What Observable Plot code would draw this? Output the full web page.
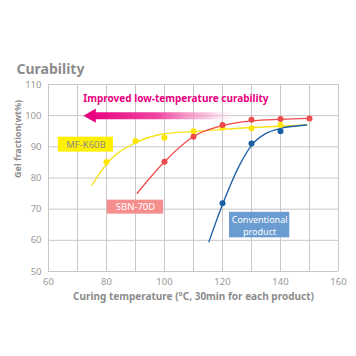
<!DOCTYPE html>
<html><head><meta charset="utf-8">
<script src="https://cdn.jsdelivr.net/npm/d3@7"></script>
<script src="https://cdn.jsdelivr.net/npm/@observablehq/plot@0.6"></script>
<style>body{margin:0;background:#fff;}</style>
</head><body><div id="chart"></div>
<script>
// ---- data ----
const seriesNames = ["MF-K60B", "SBN-70D", "Conventional\nproduct"];
const xTicks = [60, 80, 100, 120, 140, 160];
const yTicks = [50, 60, 70, 80, 90, 100, 110];

const mfPointsX = [80, 90, 100, 110, 120, 130, 140];
const mfPointsY = [85.1, 91.9, 92.9, 95.0, 96.1, 96.0, 97.0];
const mfCurveX = [75, 80, 90, 100, 110, 120, 130, 140, 149];
const mfCurveY = [77.7, 84.5, 91.3, 94.2, 94.9, 95.6, 96.2, 96.6, 97.0];

const sbnPointsX = [100, 110, 120, 130, 140, 150];
const sbnPointsY = [85.2, 93.2, 97.0, 98.7, 98.9, 99.1];
const sbnCurveX = [90.6, 100, 110, 120, 130, 140, 150];
const sbnCurveY = [75.1, 85.2, 93.3, 96.8, 98.3, 98.8, 99.1];

const convPointsX = [120, 130, 140];
const convPointsY = [71.9, 91.1, 95.0];
const convCurveX = [115.3, 120, 126.2, 130, 135, 140, 149];
const convCurveY = [59.5, 71.5, 84.7, 90.5, 94.3, 95.9, 97.0];

const arrowText = ["Improved low-temperature curability"];
const titleText = ["Curability"];
const yLabel = ["Gel fraction(wt%)"];
const xLabel = ["Curing temperature (°C, 30min for each product)"];

const pts = (xs, ys) => xs.map((x, i) => ({x, y: ys[i]}));

const YEL = "#f7e31a", RED = "#f04a4a", BLU = "#1a5ea6", PINK = "#e8007f";
const PLACEHOLDER = "#fe0081";

const chart = Plot.plot({
  width: 356, height: 356,
  marginLeft: 48, marginRight: 18, marginTop: 84, marginBottom: 85,
  style: {fontFamily: "'Noto Sans', sans-serif", fontSize: "9.5px", color: "#8c8c8c", background: "#fff"},
  x: {domain: [60, 160]},
  y: {domain: [50, 110]},
  marks: [
    Plot.gridX(d3.range(60, 161, 10), {stroke: "#c8c8c8", strokeOpacity: 1}),
    Plot.gridY(d3.range(50, 111, 10), {stroke: "#c8c8c8", strokeOpacity: 1}),
    Plot.axisX({ticks: xTicks, tickSize: 0, tickPadding: 7, label: null, fill: "#999"}),
    Plot.axisY({ticks: yTicks, tickSize: 0, tickPadding: 7, label: null, fill: "#999"}),
    // arrow
    Plot.link([0], {x1: 75, x2: 126, y1: 100, y2: 100, stroke: PLACEHOLDER, strokeWidth: 7}),
    Plot.dot([0], {x: 74.9, y: 100, symbol: "triangle", r: 5.3, rotate: -90, fill: PINK, stroke: "none"}),
    Plot.text(arrowText, {x: 72, y: 105.3, text: d => d, textAnchor: "start", fill: PINK, fontWeight: "bold", fontSize: 10}),
    // curves
    Plot.line(pts(mfCurveX, mfCurveY), {x: "x", y: "y", curve: "monotone-x", stroke: YEL, strokeWidth: 1.3}),
    Plot.line(pts(sbnCurveX, sbnCurveY), {x: "x", y: "y", curve: "monotone-x", stroke: RED, strokeWidth: 1.3}),
    Plot.line(pts(convCurveX, convCurveY), {x: "x", y: "y", curve: "monotone-x", stroke: BLU, strokeWidth: 1.3}),
    Plot.dot(pts(mfPointsX, mfPointsY), {x: "x", y: "y", r: 3, fill: "#ffe500"}),
    Plot.dot(pts(sbnPointsX, sbnPointsY), {x: "x", y: "y", r: 3, fill: RED}),
    Plot.dot(pts(convPointsX, convPointsY), {x: "x", y: "y", r: 3, fill: BLU}),
    // label boxes
    Plot.rect([0], {x1: 63.4, x2: 82.4, y1: 88.3, y2: 93.1, fill: "#fff000"}),
    Plot.text([seriesNames[0]], {x: 72.9, y: 90.7, text: d => d, fill: "#8c8c8c", fontSize: 9.5}),
    Plot.rect([0], {x1: 80.3, x2: 99.7, y1: 68.4, y2: 72.9, fill: "#f78e8e"}),
    Plot.text([seriesNames[1]], {x: 90, y: 70.65, text: d => d, fill: "#fff", fontSize: 9.5}),
    Plot.rect([0], {x1: 122.4, x2: 143.2, y1: 60.8, y2: 69.0, fill: "#6a9bd1"}),
    Plot.text([seriesNames[2]], {x: 132.8, y: 64.9, text: d => d, fill: "#fff", fontSize: 9, lineHeight: 1.3}),
    // titles
    Plot.text(titleText, {frameAnchor: "top-left", dx: -32, dy: -20, text: d => d, textAnchor: "start", fontSize: 14, fontWeight: "bold", fill: "#8c8c8c"}),
    Plot.text(yLabel, {frameAnchor: "left", dx: -30, rotate: -90, text: d => d, fontSize: 9, fontWeight: "bold", fill: "#8c8c8c"}),
    Plot.text(xLabel, {frameAnchor: "bottom", dy: 28, text: d => d, fontSize: 10, fontWeight: "bold", fill: "#8c8c8c"})
  ]
});

// gradient for the arrow shaft
const xs = chart.scale("x");
const ns = "http://www.w3.org/2000/svg";
const defs = document.createElementNS(ns, "defs");
const grad = document.createElementNS(ns, "linearGradient");
grad.setAttribute("id", "pinkGrad");
grad.setAttribute("gradientUnits", "userSpaceOnUse");
grad.setAttribute("x1", xs.apply(74));
grad.setAttribute("x2", xs.apply(126));
grad.setAttribute("y1", 0); grad.setAttribute("y2", 0);
[[0, PINK, 1], [0.45, "#ef3d9c", 0.95], [0.8, "#f8a6d0", 0.6], [1, "#ffffff", 0]].forEach(([o, c, a]) => {
  const s = document.createElementNS(ns, "stop");
  s.setAttribute("offset", o); s.setAttribute("stop-color", c); s.setAttribute("stop-opacity", a);
  grad.appendChild(s);
});
defs.appendChild(grad);
chart.insertBefore(defs, chart.firstChild);
chart.querySelectorAll(`[stroke="${PLACEHOLDER}"]`).forEach(el => el.setAttribute("stroke", "url(#pinkGrad)"));

document.getElementById("chart").appendChild(chart);
</script>
</body></html>
